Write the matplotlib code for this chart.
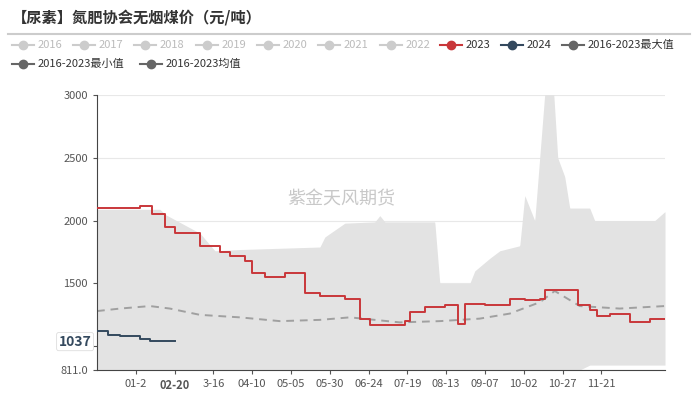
import matplotlib
matplotlib.use("Agg")
import matplotlib.pyplot as plt
import numpy as np

plt.rcParams['font.family'] = ['Noto Sans CJK SC', 'DejaVu Sans']

# x in pixel-derived day index (0..366)
def d(px): return [(p - 97) * 0.644 for p in px]

tick_pos = [25, 50, 75, 100, 125, 150, 175, 200, 225, 250, 275, 300, 325]
tick_labels = ['01-2', '02-20', '3-16', '04-10', '05-05', '05-30', '06-24', '07-19', '08-13', '09-07', '10-02', '10-27', '11-21']

max_px = [97, 160, 165, 200, 215, 240, 320, 325, 345, 375, 380, 385, 435, 440, 470, 475, 490, 500, 520, 525, 535, 545, 554, 558, 565, 570, 590, 595, 655, 665]
max_v = [2090, 2090, 2050, 1900, 1760, 1770, 1790, 1870, 1980, 1990, 2040, 1990, 1990, 1500, 1500, 1600, 1700, 1760, 1800, 2200, 2000, 3010, 3010, 2500, 2350, 2100, 2100, 2000, 2000, 2070]
min_px = [97, 580, 590, 665]
min_v = [811, 811, 850, 850]

r23_px = [97, 140, 152, 165, 175, 200, 220, 230, 245, 252, 265, 285, 305, 320, 345, 360, 370, 405, 410, 425, 445, 458, 465, 485, 510, 525, 540, 545, 578, 590, 597, 610, 630, 650, 665]
r23_v = [2100, 2120, 2050, 1950, 1900, 1800, 1750, 1720, 1680, 1580, 1550, 1580, 1420, 1400, 1380, 1220, 1170, 1200, 1270, 1310, 1330, 1180, 1340, 1330, 1380, 1370, 1380, 1450, 1330, 1290, 1240, 1260, 1190, 1220, 1220]
r24_px = [97, 108, 120, 140, 150, 165, 175]
r24_v = [1120, 1090, 1080, 1060, 1040, 1045, 1045]
avg_px = [97, 120, 150, 170, 200, 240, 280, 320, 350, 400, 440, 480, 510, 540, 555, 580, 620, 665]
avg_v = [1280, 1300, 1320, 1300, 1250, 1230, 1200, 1210, 1230, 1190, 1200, 1220, 1260, 1350, 1440, 1320, 1300, 1320]

fig = plt.figure(figsize=(7, 4.08), dpi=100)
ax = fig.add_axes([97/700, 1-370/408, 568/700, 275/408])
xg = np.linspace(0, 366, 1500)
up = np.interp(xg, d(max_px), max_v)
lo = np.interp(xg, d(min_px), min_v)
ax.fill_between(xg, lo, up, color='#e3e3e3', lw=0, zorder=1)
ax.step(d(r23_px), r23_v, where='post', color='#c9373a', lw=1.4, zorder=3)
ax.step(d(r24_px), r24_v, where='post', color='#34495e', lw=1.4, zorder=3)
ax.plot(d(avg_px), avg_v, color='#a0a0a0', lw=1.4, ls=(0, (4, 3)), zorder=2)

ax.set_xlim(0, 366)
ax.set_ylim(811, 3000)
ax.set_yticks([811, 1000, 1500, 2000, 2500, 3000])
ax.set_yticklabels(['811.0', '', '1500', '2000', '2500', '3000'])
ax.set_xticks(tick_pos)
ax.set_xticklabels(tick_labels)
for t in ax.get_xticklabels():
    if t.get_text() == '02-20':
        t.set_fontweight('bold'); t.set_fontsize(10); t.set_color('#333333')
ax.tick_params(labelsize=8, colors='#555555', length=3)
ax.grid(axis='y', color='#e8e8e8', lw=0.8)
ax.set_axisbelow(True)
for s in ['top', 'right']:
    ax.spines[s].set_visible(False)
ax.spines['left'].set_color('#444444')
ax.spines['bottom'].set_color('#444444')
ax.text(0.43, 0.62, '紫金天风期货', transform=ax.transAxes, fontsize=13, color='#c8c8c8', ha='center', va='center', zorder=5)
ax.annotate('1037', xy=(0, 1037), xycoords=('axes fraction', 'data'), xytext=(-4, 0), textcoords='offset points',
            ha='right', va='center', fontsize=10, fontweight='bold', color='#34495e',
            bbox=dict(boxstyle='round,pad=0.15', fc='white', ec='#dddddd', lw=0.6), annotation_clip=False)

fig.text(12/700, 1-18/408, '【尿素】氮肥协会无烟煤价（元/吨）', fontsize=11, fontweight='bold', color='#333333', va='center')
fig.add_artist(plt.Line2D([8/700, 690/700], [1-34/408]*2, color='#cccccc', lw=1.5))

legend_items = [('2016', '#cccccc'), ('2017', '#cccccc'), ('2018', '#cccccc'), ('2019', '#cccccc'), ('2020', '#cccccc'),
                ('2021', '#cccccc'), ('2022', '#cccccc'), ('2023', '#c9373a'), ('2024', '#34495e'), ('2016-2023最大值', '#666666')]
row2 = [('2016-2023最小值', '#666666'), ('2016-2023均值', '#666666')]
xs = [12, 73, 134, 196, 257, 318, 380, 440, 501, 562]
def leg(x, y, lab, c):
    fig.add_artist(plt.Line2D([x/700, (x+22)/700], [1-y/408]*2, color=c, lw=1.5))
    fig.add_artist(plt.Line2D([(x+11)/700], [1-y/408], marker='o', ms=6, color=c))
    tc = '#bbbbbb' if c == '#cccccc' else '#333333'
    fig.text((x+26)/700, 1-y/408, lab, fontsize=8, color=tc, va='center')
for (lab, c), x in zip(legend_items, xs):
    leg(x, 45, lab, c)
leg(12, 64, row2[0][0], row2[0][1])
leg(140, 64, row2[1][0], row2[1][1])

fig.savefig('out.png', dpi=100)
